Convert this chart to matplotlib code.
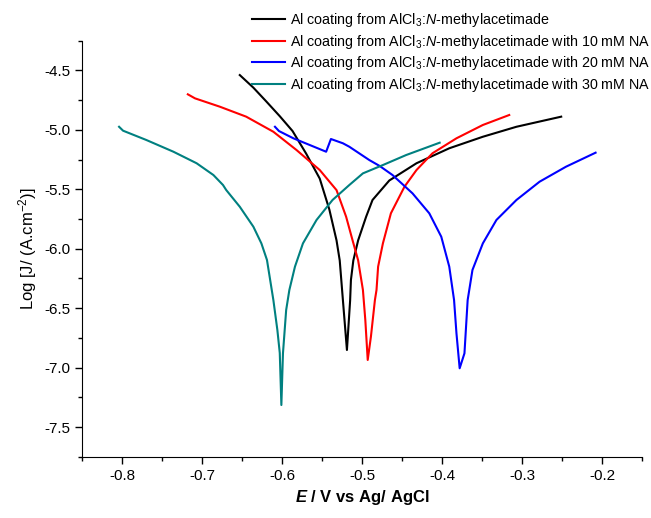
import matplotlib
matplotlib.use("Agg")
import matplotlib.pyplot as plt
from matplotlib.ticker import MultipleLocator

plt.rcParams['font.family'] = ['Liberation Sans', 'DejaVu Sans']
plt.rcParams['mathtext.fontset'] = 'custom'
plt.rcParams['mathtext.rm'] = 'Liberation Sans'
plt.rcParams['mathtext.it'] = 'Liberation Sans:italic'
plt.rcParams['mathtext.bf'] = 'Liberation Sans:bold'
plt.rcParams['mathtext.bfit'] = 'Liberation Sans:italic:bold'

# === Données ===
e_blank = [-0.653, -0.636, -0.620, -0.603, -0.587, -0.570, -0.553, -0.541, -0.532, -0.528,
           -0.524, -0.519, -0.515, -0.514, -0.511, -0.505, -0.495, -0.487, -0.466, -0.432,
           -0.391, -0.349, -0.307, -0.251]
j_blank = [-4.539, -4.645, -4.760, -4.885, -5.010, -5.200, -5.410, -5.670, -5.930, -6.099,
           -6.435, -6.852, -6.435, -6.263, -6.099, -5.930, -5.731, -5.590, -5.426, -5.281,
           -5.155, -5.058, -4.974, -4.889]

e_10 = [-0.718, -0.709, -0.678, -0.645, -0.611, -0.582, -0.553, -0.532, -0.520, -0.512,
        -0.505, -0.499, -0.496, -0.493, -0.489, -0.484, -0.482, -0.480, -0.474, -0.464,
        -0.447, -0.432, -0.412, -0.382, -0.349, -0.316]
j_10 = [-4.701, -4.735, -4.805, -4.889, -5.016, -5.170, -5.338, -5.507, -5.731, -5.928,
        -6.097, -6.347, -6.600, -6.936, -6.740, -6.432, -6.347, -6.151, -5.955, -5.702,
        -5.478, -5.338, -5.197, -5.071, -4.959, -4.875]

e_20 = [-0.609, -0.604, -0.586, -0.545, -0.539, -0.524, -0.516, -0.491, -0.478, -0.462,
        -0.437, -0.416, -0.401, -0.391, -0.385, -0.382, -0.378, -0.372, -0.368, -0.362,
        -0.349, -0.332, -0.307, -0.278, -0.245, -0.208]
j_20 = [-4.974, -5.010, -5.071, -5.184, -5.077, -5.113, -5.142, -5.254, -5.304, -5.380,
        -5.534, -5.702, -5.899, -6.151, -6.432, -6.712, -7.006, -6.880, -6.432, -6.179,
        -5.955, -5.758, -5.590, -5.436, -5.310, -5.192]

e_30 = [-0.804, -0.799, -0.770, -0.736, -0.707, -0.686, -0.674, -0.670, -0.653, -0.636,
        -0.626, -0.619, -0.611, -0.606, -0.603, -0.601, -0.599, -0.595, -0.591, -0.584,
        -0.574, -0.557, -0.537, -0.516, -0.499, -0.474, -0.445, -0.403]
j_30 = [-4.974, -5.007, -5.085, -5.184, -5.281, -5.380, -5.464, -5.506, -5.647, -5.815,
        -5.955, -6.095, -6.432, -6.684, -6.877, -7.315, -6.880, -6.516, -6.347, -6.151,
        -5.955, -5.758, -5.590, -5.464, -5.366, -5.296, -5.212, -5.108]

base = r'Al coating from AlCl$_3$:$N$-methylacetimade'
labels = [base, base + ' with 10 mM NA', base + ' with 20 mM NA', base + ' with 30 mM NA']
colors = ['black', '#FF0000', '#0000FF', '#008080']

# === Figure ===
fig = plt.figure(figsize=(6.51, 5.18), dpi=100)
ax = fig.add_axes([0.1264, 0.1183, 0.8597, 0.8031])

series = [(e_blank, j_blank), (e_10, j_10), (e_20, j_20), (e_30, j_30)]
for (e, j), lab, c in zip(series, labels, colors):
    ax.plot(e, j, color=c, lw=1.5, label=lab)

ax.set_xlim(-0.85, -0.15)
ax.set_ylim(-7.75, -4.25)
ax.xaxis.set_major_locator(MultipleLocator(0.1))
ax.xaxis.set_minor_locator(MultipleLocator(0.05))
ax.yaxis.set_major_locator(MultipleLocator(0.5))
ax.yaxis.set_minor_locator(MultipleLocator(0.25))
ax.xaxis.set_major_formatter(plt.FormatStrFormatter('%.1f'))
ax.yaxis.set_major_formatter(plt.FormatStrFormatter('%.1f'))
ax.tick_params(which='both', direction='out', labelsize=11, width=1)
ax.tick_params(which='major', length=5)
ax.tick_params(which='minor', length=3)
ax.spines['top'].set_visible(False)
ax.spines['right'].set_visible(False)

ax.set_xlabel(r'$\mathbfit{E}$ / V vs Ag/ AgCl', fontsize=12, fontweight='bold')
ax.set_ylabel(r'Log [J/ (A.cm$^{-2}$)]', fontsize=12)

ax.legend(loc='upper left', bbox_to_anchor=(0.371, 1.0), bbox_transform=fig.transFigure,
          frameon=False, fontsize=10.3, handlelength=2.3, handletextpad=0.33,
          labelspacing=0.27, borderaxespad=0.35)

fig.savefig('out.png', dpi=100)
